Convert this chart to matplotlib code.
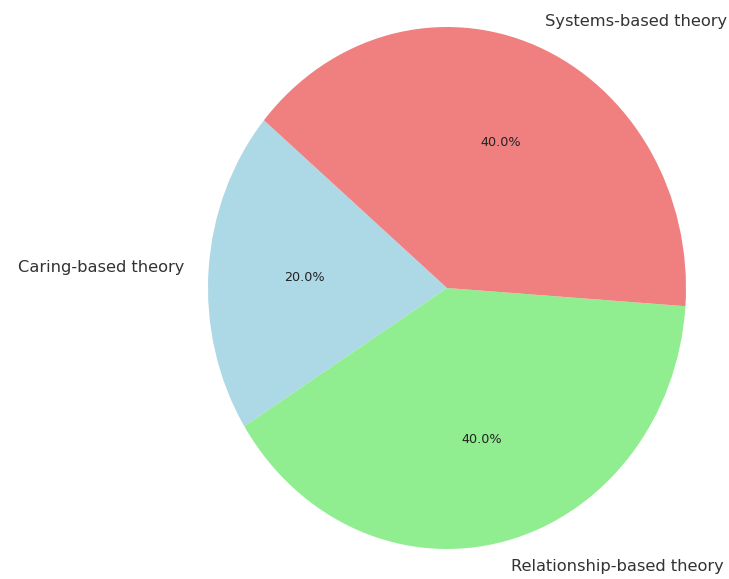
import matplotlib
matplotlib.use('Agg')
import matplotlib.pyplot as plt

# Share of nursing theory types
labels = ['Caring-based theory', 'Relationship-based theory', 'Systems-based theory']
shares = [20, 40, 40]
colors = ['lightblue', 'lightgreen', 'lightcoral']

fig = plt.figure(figsize=(7.29, 5.79), dpi=100)
ax = fig.add_axes([0, 0, 1, 1])

wedges, texts, autotexts = ax.pie(shares, labels=labels, colors=colors,
                                  autopct='%1.1f%%', startangle=140,
                                  textprops={'fontsize': 11.7, 'color': '#333333'})
for t in autotexts:
    t.set_fontsize(9.2)
    t.set_color('#222222')

# stretched pie: wider than tall in data units
ax.set_aspect('auto')
ax.set_xlim((0 - 447) / 239, (729 - 447) / 239)
ax.set_ylim((0 - 291) / 261, (579 - 291) / 261)
ax.axis('off')

fig.savefig('out.png', dpi=100)
